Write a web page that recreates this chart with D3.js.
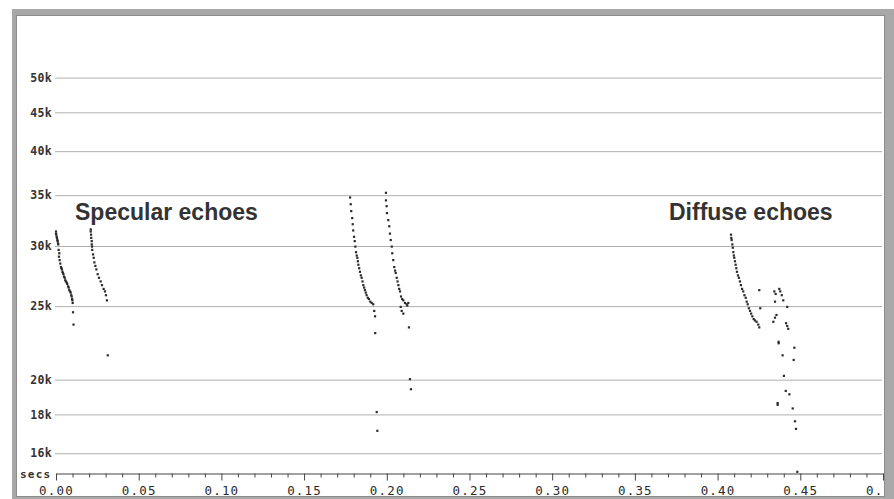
<!DOCTYPE html>
<html>
<head>
<meta charset="utf-8">
<script src="https://cdn.jsdelivr.net/npm/d3@7"></script>
<style>
  body { margin: 0; background: #fff; }
  svg { display: block; }
</style>
</head>
<body>
<script>
// [time (s), frequency (kHz)]
const pulse1 = [[0.0000, 31.3], [0.0000, 31.1], [0.0002, 31.0], [0.0004, 30.8], [0.0006, 30.7], [0.0008, 30.5],
  [0.0010, 30.4], [0.0012, 30.2], [0.0014, 30.1], [0.0016, 29.6], [0.0018, 29.0], [0.0020, 29.3], [0.0022, 28.7],
  [0.0026, 28.4], [0.0030, 28.1], [0.0033, 28.0], [0.0036, 27.9], [0.0039, 27.7], [0.0042, 27.6], [0.0045, 27.5],
  [0.0048, 27.3], [0.0053, 27.2], [0.0056, 27.0], [0.0060, 26.9], [0.0065, 26.8], [0.0068, 26.7], [0.0073, 26.5],
  [0.0077, 26.4], [0.0080, 26.2], [0.0085, 26.1], [0.0089, 26.0], [0.0092, 25.8], [0.0095, 25.7], [0.0097, 25.5],
  [0.0099, 25.4], [0.0101, 25.2], [0.0103, 24.5], [0.0106, 23.6]]

const pulse2 = [[0.0210, 31.5], [0.0210, 31.3], [0.0212, 31.0], [0.0213, 30.7], [0.0216, 30.4], [0.0216, 30.1],
  [0.0218, 29.9], [0.0219, 29.6], [0.0224, 29.2], [0.0228, 28.9], [0.0232, 28.5], [0.0238, 28.2], [0.0244, 27.9],
  [0.0252, 27.5], [0.0260, 27.2], [0.0270, 26.9], [0.0278, 26.6], [0.0288, 26.3], [0.0296, 26.1], [0.0302, 25.8],
  [0.0308, 25.4], [0.0313, 21.5]]

const pulse3 = [[0.1778, 34.7], [0.1782, 34.0], [0.1785, 33.3], [0.1791, 32.6], [0.1794, 32.0], [0.1797, 31.4],
  [0.1802, 30.8], [0.1806, 30.4], [0.1810, 29.9], [0.1814, 29.4], [0.1818, 29.1], [0.1822, 28.9], [0.1825, 28.6],
  [0.1828, 28.3], [0.1833, 28.0], [0.1838, 27.7], [0.1843, 27.4], [0.1848, 27.2], [0.1853, 26.9], [0.1858, 26.6],
  [0.1863, 26.4], [0.1868, 26.2], [0.1873, 26.0], [0.1878, 25.8], [0.1885, 25.6], [0.1892, 25.5], [0.1900, 25.3],
  [0.1909, 25.2], [0.1918, 25.1], [0.1924, 24.6], [0.1929, 24.2], [0.1930, 23.0], [0.1939, 18.1], [0.1943, 17.1]]

const pulse4 = [[0.1995, 35.2], [0.1995, 34.4], [0.1999, 33.8], [0.2001, 33.1], [0.2009, 32.4], [0.2015, 31.8],
  [0.2019, 31.1], [0.2024, 30.5], [0.2030, 29.9], [0.2033, 29.3], [0.2039, 28.7], [0.2045, 28.1], [0.2050, 27.8],
  [0.2054, 27.6], [0.2060, 27.2], [0.2065, 26.9], [0.2070, 26.6], [0.2075, 26.3], [0.2080, 26.1], [0.2086, 25.7],
  [0.2093, 25.5], [0.2100, 25.4], [0.2110, 25.2], [0.2120, 25.1], [0.2130, 25.2], [0.2084, 24.9], [0.2090, 24.6],
  [0.2100, 24.4], [0.2124, 25.0], [0.2134, 23.4], [0.2140, 20.0], [0.2146, 19.4]]

const pulse5 = [[0.4081, 31.0], [0.4083, 30.7], [0.4085, 30.5], [0.4089, 30.1], [0.4092, 29.8], [0.4095, 29.4],
  [0.4098, 29.1], [0.4101, 28.9], [0.4105, 28.6], [0.4109, 28.3], [0.4113, 28.0], [0.4117, 27.7], [0.4123, 27.4],
  [0.4129, 27.2], [0.4135, 26.9], [0.4141, 26.6], [0.4148, 26.3], [0.4155, 26.1], [0.4162, 25.8], [0.4170, 25.6],
  [0.4176, 25.3], [0.4182, 25.1], [0.4189, 24.8], [0.4196, 24.6], [0.4203, 24.4], [0.4210, 24.2], [0.4218, 24.0],
  [0.4226, 23.9], [0.4236, 23.8], [0.4246, 23.6], [0.4252, 23.4]]

const diffuseScatter = [[0.4252, 26.2], [0.4258, 24.8], [0.4343, 26.1], [0.4351, 25.9], [0.4373, 26.3],
  [0.4379, 26.1], [0.4388, 25.8], [0.4397, 25.4], [0.4347, 25.3], [0.4421, 24.9], [0.4356, 24.3], [0.4347, 24.1],
  [0.4337, 23.8], [0.4414, 23.7], [0.4421, 23.5], [0.4427, 23.3], [0.4369, 22.4], [0.4369, 22.3], [0.4464, 22.0],
  [0.4393, 21.5], [0.4460, 21.2], [0.4401, 20.2], [0.4412, 19.3], [0.4434, 19.1], [0.4363, 18.6], [0.4363, 18.5],
  [0.4454, 18.3], [0.4468, 17.6], [0.4474, 17.2], [0.4482, 15.1]]

const yTicks = [16, 18, 20, 25, 30, 35, 40, 45, 50]
const xMajor = [0, 0.05, 0.10, 0.15, 0.20, 0.25, 0.30, 0.35, 0.40, 0.45, 0.50]
const xMinor = [0.01, 0.02, 0.03, 0.04, 0.06, 0.07, 0.08, 0.09, 0.11, 0.12, 0.13, 0.14, 0.16, 0.17, 0.18, 0.19,
  0.21, 0.22, 0.23, 0.24, 0.26, 0.27, 0.28, 0.29, 0.31, 0.32, 0.33, 0.34, 0.36, 0.37, 0.38, 0.39,
  0.41, 0.42, 0.43, 0.44, 0.46, 0.47, 0.48, 0.49]
const notes = ['Specular echoes', 'Diffuse echoes']

const width = 894
const height = 499

const svg = d3.select('body').append('svg')
  .attr('width', width)
  .attr('height', height)

const xScale = d3.scaleLinear().domain([0, 0.5]).range([56, 883])
const yScale = d3.scaleLog().domain([15, 60]).range([474, 17])

// grid + frequency labels
const yAxis = d3.axisLeft(yScale)
  .tickValues(yTicks)
  .tickSize(-827)
  .tickPadding(3)
  .tickFormat(d => d + 'k')

const gy = svg.append('g')
  .attr('transform', 'translate(55,0.5)')
  .call(yAxis)
gy.select('.domain').remove()
gy.selectAll('line').attr('stroke', '#b0b0b0')
gy.selectAll('text')
  .attr('fill', '#333')
  .style('font-family', '"DejaVu Sans Mono", monospace')
  .style('font-size', '11.5px')
  .style('font-weight', 'bold')
  .style('letter-spacing', '0.3px')

// time axis
const gxMinor = svg.append('g')
  .attr('transform', 'translate(0,473.5)')
  .call(d3.axisBottom(xScale).tickValues(xMinor).tickSize(4).tickSizeOuter(0).tickFormat(''))
gxMinor.select('.domain').attr('stroke', '#444')
gxMinor.selectAll('line').attr('stroke', '#444')

const gxMajor = svg.append('g')
  .attr('transform', 'translate(0,473.5)')
  .call(d3.axisBottom(xScale).tickValues(xMajor).tickSize(7).tickSizeOuter(0).tickFormat(d3.format('.2f')))
gxMajor.select('.domain').remove()
gxMajor.selectAll('line').attr('stroke', '#444')
gxMajor.selectAll('text')
  .attr('y', 21.5)
  .attr('dy', 0)
  .attr('fill', '#2a2a2a')
  .style('font-family', '"DejaVu Sans Mono", monospace')
  .style('font-size', '12.5px')
  .style('letter-spacing', '1.2px')

svg.append('text')
  .attr('x', 20)
  .attr('y', 478)
  .attr('fill', '#333')
  .style('font-family', '"DejaVu Sans Mono", monospace')
  .style('font-size', '11px')
  .style('font-weight', 'bold')
  .style('letter-spacing', '1.2px')
  .text('secs')

// echo dots
const pulses = [pulse1, pulse2, pulse3, pulse4, pulse5, diffuseScatter]
svg.append('g')
  .selectAll('g')
  .data(pulses)
  .enter()
  .append('g')
  .selectAll('rect')
  .data(d => d)
  .enter()
  .append('rect')
  .attr('x', d => xScale(d[0]) - 1.1)
  .attr('y', d => yScale(d[1]) - 1.1)
  .attr('width', 2.2)
  .attr('height', 2.2)
  .attr('fill', '#2a2a2a')

// annotations
svg.append('g')
  .selectAll('text')
  .data(notes)
  .enter()
  .append('text')
  .attr('x', (d, i) => i == 0 ? 75 : 669)
  .attr('y', 220)
  .attr('fill', '#333')
  .style('font-family', '"Liberation Sans", Arial, sans-serif')
  .style('font-weight', 'bold')
  .style('font-size', '23px')
  .text(d => d)

// window frame (drawn last, it clips the right-most time label like the original)
svg.append('path')
  .attr('fill-rule', 'evenodd')
  .attr('fill', '#a8a8a8')
  .attr('d', 'M12,9H894V499H12Z M17,16V496H884V16Z')
svg.append('rect')
  .attr('x', 16.5).attr('y', 15.5)
  .attr('width', 868).attr('height', 481)
  .attr('fill', 'none')
  .attr('stroke', '#8c8c8c')
</script>
</body>
</html>
